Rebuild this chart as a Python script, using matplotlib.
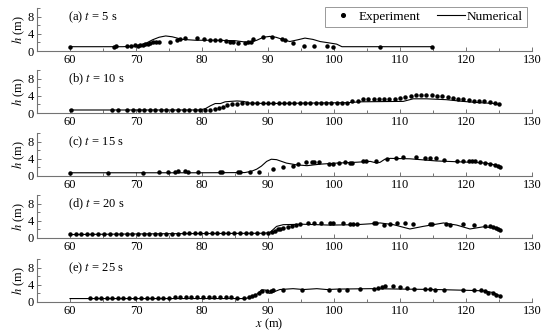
import numpy as np
import matplotlib
matplotlib.use("Agg")
import matplotlib.pyplot as plt
from matplotlib.ticker import FixedLocator

plt.rcParams['font.family'] = ['Liberation Serif', 'DejaVu Serif']
plt.rcParams['mathtext.fontset'] = 'stix'
plt.rcParams['font.size'] = 9

# ---- data ----
times = [5, 10, 15, 20, 25]
panel_tags = ["a", "b", "c", "d", "e"]

# (a) t = 5 s
xa_exp = [60.0, 66.7, 66.9, 68.7, 69.3, 69.8, 70.3, 70.6, 71.0, 71.4, 71.8, 72.1, 72.6, 73.1, 73.5,
          75.2, 76.2, 76.7, 77.4, 79.2, 80.3, 81.2, 82.0, 82.7, 83.7, 84.2, 84.7, 85.5, 86.5, 87.0,
          87.4, 87.8, 89.3, 90.6, 92.1, 92.6, 93.8, 95.4, 96.9, 98.9, 99.9, 107.0, 114.8]
ha_exp = [1.0, 1.0, 1.1, 1.1, 1.2, 1.3, 1.25, 1.4, 1.4, 1.6, 1.65, 1.8, 2.0, 2.0, 2.1,
          2.2, 2.6, 2.8, 3.0, 3.1, 2.75, 2.6, 2.6, 2.5, 2.4, 2.2, 2.0, 1.8, 1.8, 2.0,
          2.2, 2.8, 3.2, 3.2, 2.75, 2.6, 1.8, 1.25, 1.2, 1.2, 1.0, 1.0, 1.0]
xa_num = [60, 68, 69.5, 70.5, 71.5, 72.5, 73.5, 74.5, 75.5, 77, 79, 82, 85, 86.5, 87.3, 88.3, 89.3,
          90.3, 91.2, 92.1, 93.3, 94.5, 95.6, 96.8, 97.9, 99.2, 100.4, 101.2, 115]
ha_num = [1.0, 1.0, 1.1, 1.3, 1.8, 2.6, 3.2, 3.5, 3.3, 2.7, 2.5, 2.5, 2.4, 2.1, 2.0, 2.5, 3.2,
          3.4, 3.2, 2.75, 2.2, 2.6, 3.0, 2.7, 2.2, 1.9, 1.6, 1.0, 1.0]

# (b) t = 10 s
xb_exp = [60.2, 66.3, 67.3, 68.7, 69.5, 70.4, 71.2, 72.1, 72.9, 73.8, 74.6, 75.5, 76.3, 77.2, 78.0,
          78.9, 79.7, 80.5, 81.2, 82.0, 82.6, 83.2, 83.8, 84.5, 85.3,
          86.0, 86.8, 87.6, 88.4, 89.2, 90.0, 90.8, 91.6, 92.4, 93.2, 94.0, 94.8, 95.6, 96.4, 97.2,
          98.0, 98.8, 99.6, 100.4, 101.2, 102.0, 102.8, 103.6, 104.4, 105.2, 106.0, 106.8, 107.6,
          108.4, 109.2, 110.0, 110.8, 111.6, 112.4, 113.2, 114.0, 114.8, 115.6, 116.4, 117.2, 118.0,
          118.8, 119.6, 120.4, 121.2, 122.0, 122.8, 123.6, 124.4, 125.0]
hb_exp = [0.7, 0.7, 0.7, 0.7, 0.7, 0.7, 0.7, 0.7, 0.7, 0.7, 0.7, 0.7, 0.7, 0.7, 0.7,
          0.7, 0.7, 0.8, 0.8, 0.95, 1.1, 1.4, 1.8, 2.0, 2.2,
          2.3, 2.3, 2.3, 2.3, 2.3, 2.3, 2.3, 2.3, 2.3, 2.3, 2.3, 2.3, 2.4, 2.4, 2.4,
          2.4, 2.4, 2.4, 2.4, 2.4, 2.4, 2.7, 2.9, 3.2, 3.2, 3.2, 3.2, 3.2,
          3.2, 3.3, 3.5, 3.8, 4.0, 4.2, 4.2, 4.2, 4.2, 4.0, 3.9, 3.7, 3.4,
          3.3, 3.2, 3.0, 2.9, 2.8, 2.8, 2.6, 2.4, 2.0]
xb_num = [60, 79.6, 80.5, 81.3, 82.0, 82.8, 83.5, 84.3, 85.3, 86.3, 87.2, 90, 96, 102, 104,
          110.5, 112, 114, 117, 119.5, 122, 124.5, 125.2]
hb_num = [0.7, 0.7, 1.0, 1.7, 2.2, 2.2, 2.6, 2.7, 2.8, 2.7, 2.3, 2.2, 2.3, 2.4, 2.6,
          2.7, 3.3, 3.3, 3.1, 2.7, 2.4, 2.2, 1.8]

# (c) t = 15 s
xc_exp = [60.0, 65.8, 71.1, 73.5, 74.9, 75.9, 76.4, 77.4, 77.9, 79.4, 82.7, 83.0, 85.4, 85.8,
          87.2, 88.7, 90.8, 92.2, 93.8, 94.6, 95.8, 96.6, 96.9, 97.8, 99.3, 99.8, 100.7, 101.7,
          102.4, 102.7, 104.4, 104.9, 106.4, 108.0, 109.4, 110.5, 112.4, 113.8, 114.6, 115.5,
          116.7, 118.7, 119.5, 120.5, 120.9, 121.4, 122.1, 122.9, 123.6, 124.4, 124.9, 125.2]
hc_exp = [0.8, 0.8, 0.8, 0.85, 1.0, 1.0, 1.2, 1.2, 1.0, 0.85, 1.0, 1.0, 1.0, 0.9,
          0.9, 0.9, 1.6, 2.0, 2.4, 2.7, 3.2, 3.2, 3.2, 3.2, 2.8, 2.8, 3.0, 3.2,
          3.1, 3.1, 3.4, 3.4, 3.5, 4.0, 4.3, 4.5, 4.5, 4.2, 4.2, 4.2,
          3.8, 3.4, 3.4, 3.4, 3.4, 3.4, 3.2, 3.1, 2.9, 2.6, 2.4, 2.0]
xc_num = [60, 80, 86.5, 87.5, 88.3, 89.0, 89.8, 90.5, 91.3, 92.8, 94.3, 95.9, 97.9, 100.4, 103.4,
          105.5, 106.5, 107.0, 107.7, 108.5, 111.5, 115.5, 120.6, 123.1, 124.6, 125.2]
hc_num = [0.75, 0.75, 0.8, 1.1, 1.6, 2.3, 3.4, 3.9, 3.8, 3.0, 2.6, 2.4, 2.75, 3.0, 3.2,
          3.4, 3.0, 3.2, 3.9, 4.1, 4.0, 3.5, 3.2, 3.0, 2.5, 2.0]

# (d) t = 20 s
xd_exp = [60.0, 60.9, 61.7, 62.6, 63.4, 64.3, 65.2, 66.0, 66.9, 67.7, 68.6, 69.4, 70.3, 71.2,
          72.0, 72.9, 73.7, 74.6, 75.5, 76.3, 77.2, 78.0, 78.9, 79.7, 80.6, 81.5, 82.3, 83.2,
          84.0, 84.9, 85.8, 86.6, 87.5, 88.3, 89.2, 90.0, 90.6, 91.0, 91.5, 91.8, 92.3, 93.1,
          93.6, 94.3, 94.8, 96.1, 96.9, 98.1, 99.4, 99.8, 101.4, 102.4, 102.9, 103.5, 106.0,
          106.4, 107.5, 108.5, 109.5, 110.8, 111.9, 114.5, 114.8, 117.0, 117.6, 119.6, 121.2,
          122.9, 123.6, 124.1, 124.6, 124.9, 125.2]
hd_exp = [0.9, 0.9, 0.9, 0.9, 0.9, 0.9, 0.9, 0.9, 0.9, 0.9, 0.9, 0.9, 0.9, 0.9,
          0.9, 0.9, 0.9, 1.0, 1.0, 1.0, 1.1, 1.1, 1.1, 1.1, 1.1, 1.1, 1.1, 1.1,
          1.1, 1.1, 1.1, 1.1, 1.1, 1.1, 1.1, 1.2, 1.5, 1.6, 2.0, 2.2, 2.4, 2.6,
          2.7, 3.0, 3.2, 3.5, 3.4, 3.5, 3.5, 3.5, 3.5, 3.3, 3.3, 3.3, 3.4,
          3.5, 3.1, 3.3, 3.5, 3.5, 3.3, 3.3, 3.3, 3.3, 3.1, 3.3, 3.0,
          2.9, 2.8, 2.6, 2.3, 2.1, 1.8]
xd_num = [60, 75, 89.5, 90.3, 90.8, 91.3, 92.3, 95.3, 99.4, 103.4, 105.5, 107.0, 109.0, 111.5,
          113.5, 116.6, 118.6, 120.6, 122.6, 124.6, 125.2]
hd_num = [0.8, 1.0, 1.1, 1.3, 2.0, 2.7, 3.1, 3.2, 3.0, 3.1, 3.3, 3.5, 3.1, 2.1,
          2.7, 3.5, 3.0, 2.1, 2.6, 2.3, 1.8]

# (e) t = 25 s
xe_exp = [63.0, 63.9, 64.7, 65.6, 66.4, 67.3, 68.1, 69.0, 69.9, 70.7, 71.6, 72.4, 73.3, 74.1,
          75.0, 75.9, 76.7, 77.6, 78.4, 79.3, 80.1, 81.0, 81.8, 82.7, 83.6, 84.4, 85.3, 86.3,
          87.1, 87.6, 88.1, 88.6, 89.1, 89.9, 90.4, 90.8, 92.2, 95.1, 99.3, 100.7, 101.9, 104.0,
          106.1, 106.7, 107.2, 107.7, 108.9, 110.0, 111.0, 112.1, 113.8, 114.5, 115.3, 116.7,
          119.5, 121.2, 122.2, 122.9, 123.4, 124.1, 124.6, 125.2]
he_exp = [0.95, 0.95, 0.95, 0.95, 0.95, 0.95, 0.95, 0.95, 0.95, 1.0, 1.0, 1.0, 1.0, 1.0,
          1.0, 1.15, 1.15, 1.15, 1.15, 1.15, 1.05, 1.05, 1.05, 1.05, 1.05, 1.05, 1.0, 1.0,
          1.2, 1.4, 1.7, 2.1, 2.5, 2.6, 2.6, 2.8, 2.7, 2.9, 2.9, 2.7, 2.9, 3.1,
          3.1, 3.3, 3.5, 3.8, 3.8, 3.5, 3.3, 3.1, 3.1, 3.0, 2.7, 2.7,
          2.7, 2.7, 2.7, 2.5, 2.2, 2.0, 1.7, 1.4]
xe_num = [60, 86.5, 87.5, 88.4, 89.0, 89.6, 90.2, 90.8, 91.8, 93.8, 95.4, 97.4, 98.9, 100.5,
          105.5, 110.5, 115.5, 120.6, 122.6, 124.1, 125.2]
he_num = [0.8, 0.8, 1.1, 1.9, 2.8, 2.8, 2.0, 2.3, 2.9, 3.1, 2.9, 3.1, 2.9, 3.0,
          3.1, 3.0, 2.9, 2.7, 2.6, 2.2, 1.4]

exp_x = [xa_exp, xb_exp, xc_exp, xd_exp, xe_exp]
exp_h = [ha_exp, hb_exp, hc_exp, hd_exp, he_exp]
num_x = [xa_num, xb_num, xc_num, xd_num, xe_num]
num_h = [ha_num, hb_num, hc_num, hd_num, he_num]

# ---- layout (pixel positions measured on the 550x332 reference) ----
W, H = 550, 332
left_px, right_px = 37, 532
bottoms_px = [51, 113, 176, 238, 302]
height_px = 43
spine_col = '0.45'

fig = plt.figure(figsize=(W / 100, H / 100), dpi=100)

axes = []
for i in range(5):
    ax = fig.add_axes([left_px / W, 1 - bottoms_px[i] / H,
                       (right_px - left_px) / W, height_px / H])
    ax.plot(num_x[i], num_h[i], color='black', lw=0.8, label='Numerical', zorder=2)
    ax.plot(exp_x[i], exp_h[i], linestyle='none', marker='o', ms=2.2,
            color='black', label='Experiment', zorder=3)

    ax.set_xlim(55, 130)
    ax.set_ylim(0, 10)
    ax.set_xticks([60, 70, 80, 90, 100, 110, 120, 130])
    ax.xaxis.set_minor_locator(FixedLocator(np.arange(65, 130, 10)))
    ax.set_yticks([0, 4, 8])
    ax.yaxis.set_minor_locator(FixedLocator([2, 6, 10]))
    for s in ['top', 'right']:
        ax.spines[s].set_visible(False)
    for s in ['left', 'bottom']:
        ax.spines[s].set_color(spine_col)
        ax.spines[s].set_linewidth(0.8)
    ax.tick_params(which='both', direction='in', color=spine_col, width=0.7,
                   labelsize=9, pad=2)
    ax.tick_params(which='major', length=3)
    ax.tick_params(which='minor', length=2)
    ax.set_ylabel('$h$ (m)', fontsize=9, labelpad=1)
    ax.text(0.063, 0.79, f'({panel_tags[i]}) $t$ = {times[i]} s',
            transform=ax.transAxes, fontsize=9, va='center', ha='left')
    axes.append(ax)

axes[-1].set_xlabel('$x$ (m)', fontsize=9)
axes[-1].xaxis.set_label_coords(0.47, -0.34)

h_, l_ = axes[0].get_legend_handles_labels()
leg = axes[0].legend([h_[1], h_[0]], [l_[1], l_[0]], ncol=2, loc='upper right',
                     bbox_to_anchor=(0.99, 1.03), fontsize=9.5, frameon=True,
                     fancybox=False, edgecolor='0.5', handlelength=2.1,
                     columnspacing=1.3, handletextpad=0.15, borderpad=0.3,
                     borderaxespad=0.0, markerscale=1.2)
leg.get_frame().set_linewidth(0.7)

fig.savefig('out.png', dpi=100)
